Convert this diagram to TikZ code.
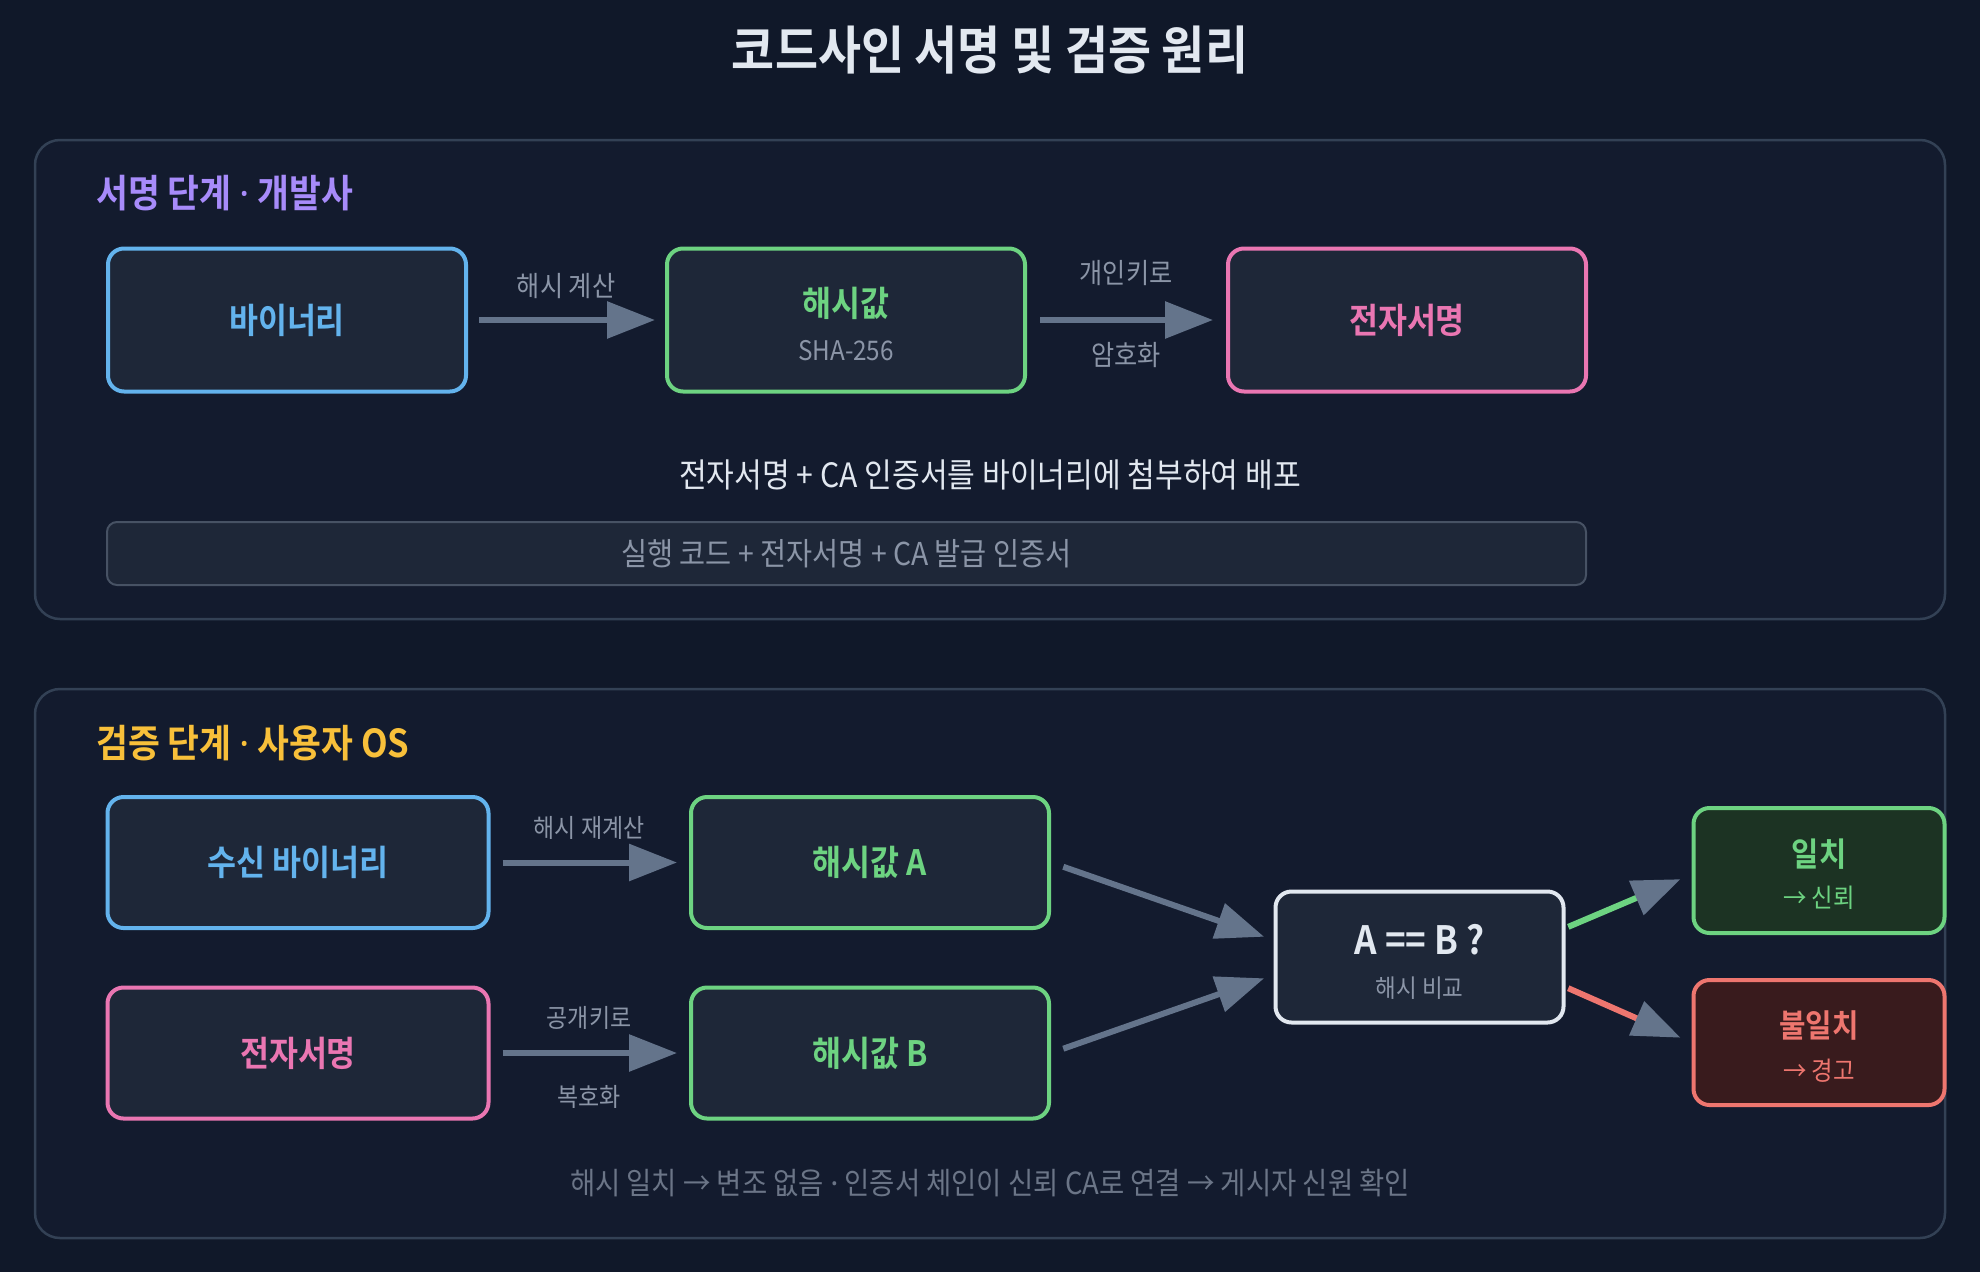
\documentclass[tikz,border=0pt]{standalone}
\usepackage{fontspec}
\setmainfont{Noto Sans CJK KR}[FakeStretch=0.9, BoldFont={Noto Sans CJK KR Bold}]
\newfontfamily\latinf{Noto Sans}
\usetikzlibrary{arrows.meta}
\definecolor{bg}{HTML}{101829}
\definecolor{panelbg}{HTML}{131B2E}
\definecolor{panelline}{HTML}{334155}
\definecolor{boxbg}{HTML}{1E2738}
\definecolor{barline}{HTML}{475264}
\definecolor{cblue}{HTML}{63B3ED}
\definecolor{cgreen}{HTML}{6DD381}
\definecolor{cpink}{HTML}{EA76B2}
\definecolor{cred}{HTML}{EE766F}
\definecolor{cpurple}{HTML}{A78BFA}
\definecolor{cyellow}{HTML}{F8C03A}
\definecolor{arrowgray}{HTML}{64748B}
\definecolor{labelgray}{HTML}{8B95A7}
\definecolor{textlight}{HTML}{E2E8F0}
\definecolor{footgray}{HTML}{6B7587}
\definecolor{okbg}{HTML}{1C3323}
\definecolor{badbg}{HTML}{391B1D}
\newcommand\fsz[1]{\fontsize{#1}{#1}\selectfont}
\newcommand\mdot{{\latinf ·}}
\begin{document}
\begin{tikzpicture}[x=1pt,y=-1pt,
  panel/.style={draw=panelline, line width=2.5pt, fill=panelbg, rounded corners=25pt, inner sep=0pt},
  box/.style={line width=4pt, fill=boxbg, rounded corners=16pt, inner sep=0pt, align=center},
  boxtxt/.style={font=\fsz{35}\bfseries},
  lbl/.style={font=\fsz{28}, text=labelgray, inner sep=0pt},
  lblb/.style={font=\fsz{25.5}, text=labelgray, inner sep=0pt},
  arr/.style={draw=arrowgray, line width=6pt, -{Triangle[length=48pt,width=36pt]}},
  carr/.style={line width=6pt, -{Triangle[length=48pt,width=36pt,color=arrowgray]}}
]
\useasboundingbox[fill=bg] (0,0) rectangle (1980,1272);
\node[text=textlight, font=\fsz{52}\bfseries, inner sep=0pt] (title) at (990,50) {코드사인 서명 및 검증 원리};

% panel 1
\node[panel, minimum width=1910pt, minimum height=479pt] (p1) at (990,379.5) {};
\node[anchor=west, text=cpurple, font=\fsz{38.5}\bfseries, inner sep=0pt] (p1t) at (96,193) {서명 단계 \mdot{} 개발사};
\node[box, draw=cblue, minimum width=358pt, minimum height=143pt, text=cblue, boxtxt] (bin) at (287,320) {바이너리};
\node[box, draw=cgreen, minimum width=358pt, minimum height=143pt] (hash) at (846,320) {};
\node[text=cgreen, boxtxt, inner sep=0pt] (hasht) at (846,303) {해시값};
\node[font=\fsz{27}, text=labelgray, inner sep=0pt] (hashs) at (846,351) {SHA-256};
\node[box, draw=cpink, minimum width=358pt, minimum height=143pt, text=cpink, boxtxt] (sig) at (1407,320) {전자서명};
\draw[arr, shorten <=11pt, shorten >=10pt] (bin.east) -- (hash.west);
\draw[arr, shorten <=13pt, shorten >=13pt] (hash.east) -- (sig.west);
\node[lbl] (l1) at (566,286) {해시 계산};
\node[lbl] (l2a) at (1126,273) {개인키로};
\node[lbl] (l2b) at (1126,355) {암호화};
\node[text=textlight, font=\fsz{33.5}, inner sep=0pt] (cap) at (990,475) {전자서명 + CA 인증서를 바이너리에 첨부하여 배포};
\node[draw=barline, line width=2pt, fill=boxbg, rounded corners=10pt, minimum width=1479pt, minimum height=63pt, inner sep=0pt, text=labelgray, font=\fsz{31.5}] (bar) at (846.5,553.5) {실행 코드 + 전자서명 + CA 발급 인증서};

% panel 2
\node[panel, minimum width=1910pt, minimum height=549pt] (p2) at (990,963.5) {};
\node[anchor=west, text=cyellow, font=\fsz{38.5}\bfseries, inner sep=0pt] (p2t) at (96,743) {검증 단계 {\bfseries\mdot} 사용자 OS};
\node[box, draw=cblue, minimum width=381pt, minimum height=131pt, text=cblue, boxtxt] (rbin) at (298,862.5) {수신 바이너리};
\node[box, draw=cgreen, minimum width=358pt, minimum height=131pt, text=cgreen, boxtxt] (ha) at (870,862.5) {해시값 A};
\node[box, draw=cpink, minimum width=381pt, minimum height=131pt, text=cpink, boxtxt] (rsig) at (298,1053) {전자서명};
\node[box, draw=cgreen, minimum width=358pt, minimum height=131pt, text=cgreen, boxtxt] (hb) at (870,1053) {해시값 B};
\node[box, draw=textlight, minimum width=288pt, minimum height=131pt] (cmp) at (1419.5,957) {};
\node[text=textlight, font=\fsz{39}\bfseries, inner sep=0pt] (cmpt) at (1419.5,940) {A == B ?};
\node[font=\fsz{25}, text=labelgray, inner sep=0pt] (cmps) at (1419.5,988) {해시 비교};
\node[box, draw=cgreen, fill=okbg, minimum width=251pt, minimum height=125pt] (ok) at (1819,870.5) {};
\node[text=cgreen, font=\fsz{33}\bfseries, inner sep=0pt] (okt) at (1819,854) {일치};
\node[text=cgreen, font=\fsz{26}, inner sep=0pt] (oks) at (1819,898) {→ 신뢰};
\node[box, draw=cred, fill=badbg, minimum width=251pt, minimum height=125pt] (bad) at (1819,1042.5) {};
\node[text=cred, font=\fsz{32}\bfseries, inner sep=0pt] (badt) at (1819,1025) {불일치};
\node[text=cred, font=\fsz{26}, inner sep=0pt] (bads) at (1819,1071) {→ 경고};

\draw[arr, shorten <=12pt, shorten >=12pt] (rbin.east) -- (ha.west);
\draw[arr, shorten <=12pt, shorten >=12pt] (rsig.east) -- (hb.west);
\node[lblb] (l3) at (589,828) {해시 재계산};
\node[lblb] (l4a) at (589,1018) {공개키로};
\node[lblb] (l4b) at (589,1097) {복호화};
\draw[arr, shorten <=13pt, shorten >=10pt] (ha.east) -- ([yshift=17pt]cmp.west);
\draw[arr, shorten <=13pt, shorten >=10pt] (hb.east) -- ([yshift=-18pt]cmp.west);
\draw[carr, draw=cgreen, shorten <=3pt, shorten >=12pt] ([yshift=29pt]cmp.east) -- ([yshift=-4pt]ok.west);
\draw[carr, draw=cred, shorten <=3pt, shorten >=12pt] ([yshift=-30pt]cmp.east) -- (bad.west);

\node[text=footgray, font=\fsz{30.5}, inner sep=0pt] (foot) at (990,1183) {해시 일치 → 변조 없음 \mdot{} 인증서 체인이 신뢰 CA로 연결 → 게시자 신원 확인};
\end{tikzpicture}
\end{document}
